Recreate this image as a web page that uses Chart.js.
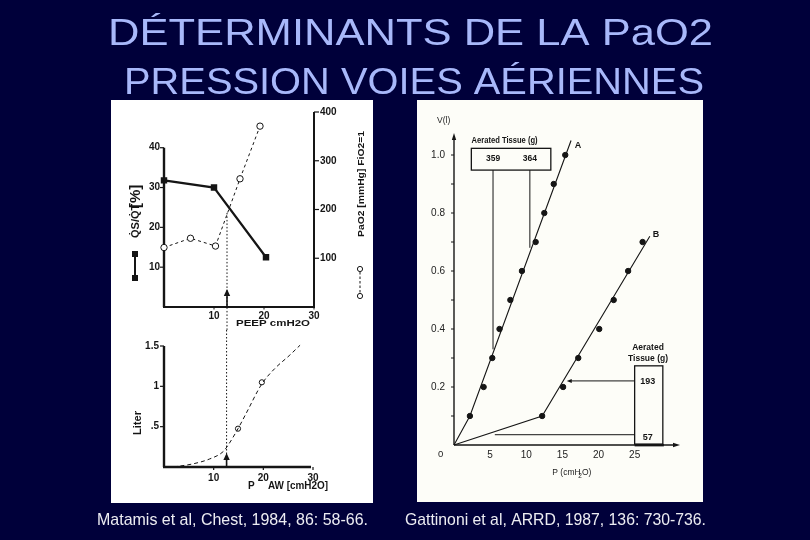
<!DOCTYPE html>
<html>
<head>
<meta charset="utf-8">
<script src="https://cdn.jsdelivr.net/npm/chart.js@4.4.1/dist/chart.umd.min.js"></script>
<style>
html, body { margin: 0; padding: 0; width: 810px; height: 540px; overflow: hidden; background: #00003a; }
canvas { position: absolute; }
.panel { position: absolute; }
</style>
</head>
<body>
<div class="panel" style="left:111px;top:100px;width:262px;height:403px;background:#ffffff"></div>
<div class="panel" style="left:417px;top:100px;width:286px;height:402px;background:#fdfdf8"></div>
<canvas id="bg" width="810" height="540" style="left:0;top:0"></canvas>
<canvas id="peep" width="262" height="230" style="left:111px;top:100px"></canvas>
<canvas id="paw" width="262" height="173" style="left:111px;top:330px"></canvas>
<canvas id="pv" width="286" height="402" style="left:417px;top:100px"></canvas>
<script>
// Matamis: shunt and PaO2 against PEEP
const peepShunt = [0, 10, 20.4]
const shuntPct = [31.8, 30, 12.5]
const peepPaO2 = [0, 5.3, 10.3, 15.2, 19.2]
const paO2 = [122, 141, 125, 263, 371]
const peepTicks = [10, 20, 30]
const shuntTicks = [10, 20, 30, 40]
const paO2Ticks = [100, 200, 300, 400]

// Matamis: P/V curve
const pawCurve = [1.9, 5.9, 9.2, 11.9, 12.9, 14.9, 16.5, 19.7, 22.3, 25.2, 27.4]
const literCurve = [0, 0.04, 0.1, 0.19, 0.27, 0.475, 0.66, 1.03, 1.22, 1.38, 1.51]
const pawMarks = [14.9, 19.7]
const literMarks = [0.475, 1.05]
const pawTicks = [10, 20, 30]
const literTicks = [0.5, 1, 1.5]
const literLabels = ['.5', '1', '1.5']
const lip = 12.6

// Gattinoni: curves A and B
const pressA = [2.2, 4.1, 5.3, 6.3, 7.8, 9.4, 11.3, 12.5, 13.8, 15.4]
const volA = [0.1, 0.2, 0.3, 0.4, 0.5, 0.6, 0.7, 0.8, 0.9, 1.0]
const pressB = [12.2, 15.1, 17.2, 20.1, 22.1, 24.1, 26.1]
const volB = [0.1, 0.2, 0.3, 0.4, 0.5, 0.6, 0.7]
const fitPressA = [0, 2.2, 16.2]
const fitVolA = [0, 0.1, 1.05]
const fitPressB = [0, 12.2, 27.1]
const fitVolB = [0, 0.1, 0.72]
const pTicks = [5, 10, 15, 20, 25]
const vTicks = [0.2, 0.4, 0.6, 0.8, 1.0]
const tissueTop = ['359', '364']
const tissueBottom = ['193', '57']

const FONT = '"Liberation Sans", Arial, sans-serif'
const INK = '#151515'

const zip = (xs, ys) => xs.map((x, i) => ({x, y: ys[i]}))

function put(ctx, s, x, y, o = {}) {
    ctx.save()
    ctx.font = (o.weight || 'normal') + ' ' + (o.size || 10) + 'px ' + FONT
    ctx.fillStyle = o.color || INK
    ctx.textBaseline = o.base || 'alphabetic'
    ctx.translate(x, y)
    if (o.rot) ctx.rotate(o.rot)
    const w = ctx.measureText(s).width
    const sx = o.width ? o.width / w : 1
    ctx.scale(sx, 1)
    const align = o.align || 'left'
    const dx = align === 'center' ? -w / 2 : align === 'right' ? -w : 0
    ctx.fillText(s, dx, 0)
    ctx.restore()
}

function seg(ctx, x1, y1, x2, y2, w, dash) {
    ctx.save()
    ctx.strokeStyle = INK
    ctx.lineWidth = w
    ctx.setLineDash(dash || [])
    ctx.beginPath()
    ctx.moveTo(x1, y1)
    ctx.lineTo(x2, y2)
    ctx.stroke()
    ctx.restore()
}

// filled arrow head, tip at (x, y), pointing along angle a
function head(ctx, x, y, a, len, half) {
    ctx.save()
    ctx.translate(x, y)
    ctx.rotate(a)
    ctx.fillStyle = INK
    ctx.beginPath()
    ctx.moveTo(0, 0)
    ctx.lineTo(-len, -half)
    ctx.lineTo(-len, half)
    ctx.closePath()
    ctx.fill()
    ctx.restore()
}

const fixedTicks = (list) => (s) => { s.ticks = list.map(v => ({value: v})) }
const tickFont = (size, weight) => ({family: FONT, size: size, weight: weight})

// title and captions
const bg = document.getElementById('bg').getContext('2d')
put(bg, 'DÉTERMINANTS DE LA PaO2', 108, 45, {size: 37, color: '#a8b8fa', width: 605})
put(bg, 'PRESSION VOIES AÉRIENNES', 124, 94, {size: 37, color: '#a8b8fa', width: 580})
put(bg, 'Matamis et al, Chest, 1984, 86: 58-66.', 97, 525, {size: 17, color: '#ececf2', width: 271})
put(bg, 'Gattinoni et al, ARRD, 1987, 136: 730-736.', 405, 525, {size: 17, color: '#ececf2', width: 301})

// ---------- PEEP chart ----------
new Chart(document.getElementById('peep'), {
    type: 'scatter',
    data: {
        datasets: [
            {
                data: zip(peepShunt, shuntPct), yAxisID: 'yL', showLine: true, clip: false,
                borderColor: INK, borderWidth: 2.2, pointStyle: 'rect', pointRadius: 3,
                pointBackgroundColor: INK, pointBorderColor: INK,
            },
            {
                data: zip(peepPaO2, paO2), yAxisID: 'yR', showLine: true, clip: false,
                borderColor: INK, borderWidth: 1, borderDash: [3, 3], pointRadius: 3.2,
                pointBackgroundColor: '#fff', pointBorderColor: INK, pointBorderWidth: 1,
            },
        ]
    },
    options: {
        responsive: false, animation: false,
        layout: {padding: {top: 10, left: 0, right: 0, bottom: 0}},
        plugins: {legend: {display: false}, tooltip: {enabled: false}},
        scales: {
            x: {
                type: 'linear', min: 0, max: 30, afterBuildTicks: fixedTicks(peepTicks),
                afterFit: s => { s.height = 23 },
                grid: {display: false, drawTicks: false}, border: {display: false},
                ticks: {font: tickFont(10, 'bold'), color: INK, padding: 3, maxRotation: 0, autoSkip: false},
            },
            yL: {
                type: 'linear', position: 'left', min: 0, max: 48.97, afterBuildTicks: fixedTicks(shuntTicks),
                afterFit: s => { s.width = 53 },
                grid: {display: false, drawTicks: false}, border: {display: false},
                ticks: {font: tickFont(10, 'bold'), color: INK, padding: 4, autoSkip: false},
            },
            yR: {
                type: 'linear', position: 'right', min: 0, max: 400, afterBuildTicks: fixedTicks(paO2Ticks),
                afterFit: s => { s.width = 59 },
                grid: {display: false, drawTicks: false}, border: {display: false},
                ticks: {font: tickFont(10, 'bold'), color: INK, padding: 6, autoSkip: false},
            },
        }
    },
    plugins: [{
        id: 'peepAxes',
        beforeDatasetsDraw(chart) {
            const {ctx, scales: {x, yL, yR}} = chart
            const x0 = x.getPixelForValue(0), x30 = x.getPixelForValue(30), yb = yL.getPixelForValue(0)
            seg(ctx, x0, yb, x0, yL.getPixelForValue(40), 2.4)
            seg(ctx, x0 - 1, yb, x30 + 1, yb, 2.2)
            seg(ctx, x30, yb, x30, yR.getPixelForValue(400), 2)
            shuntTicks.forEach(v => seg(ctx, x0 - 4, yL.getPixelForValue(v), x0, yL.getPixelForValue(v), 1.2))
            paO2Ticks.forEach(v => seg(ctx, x30, yR.getPixelForValue(v), x30 + 5, yR.getPixelForValue(v), 1.2))
            peepTicks.forEach(v => seg(ctx, x.getPixelForValue(v), yb, x.getPixelForValue(v), yb + 2.5, 1))
        },
        afterDatasetsDraw(chart) {
            const {ctx, scales: {x, yL, yR}} = chart
            const xl = x.getPixelForValue(lip)
            seg(ctx, xl, yR.getPixelForValue(193), xl, chart.height, 1, [1.5, 2])
            seg(ctx, xl, yL.getPixelForValue(0), xl, yL.getPixelForValue(0) - 12, 1.6)
            head(ctx, xl, yL.getPixelForValue(0) - 18, -Math.PI / 2, 7, 3.2)
            put(ctx, 'PEEP cmH2O', x.getPixelForValue(21.8), 226, {size: 8.5, weight: 'bold', align: 'center', width: 74})
            // left title and legend
            put(ctx, 'Q\u0307S/Q\u0307T', 28, 138, {size: 11, weight: 'bold', rot: -Math.PI / 2})
            put(ctx, '[%]', 29, 108, {size: 15, weight: 'bold', rot: -Math.PI / 2})
            seg(ctx, 24, 154, 24, 178, 2)
            ctx.fillStyle = INK
            ctx.fillRect(21, 151, 6, 6)
            ctx.fillRect(21, 175, 6, 6)
            // right title and legend
            put(ctx, 'PaO2 [mmHg] FiO2=1', 253, 137, {size: 9.5, weight: 'bold', rot: -Math.PI / 2, width: 106})
            seg(ctx, 249, 172, 249, 193, 1, [2.5, 2])
            ctx.save()
            ctx.strokeStyle = INK
            ctx.fillStyle = '#fff'
            ctx.lineWidth = 1
            ;[169, 196].forEach(cy => { ctx.beginPath(); ctx.arc(249, cy, 2.6, 0, Math.PI * 2); ctx.fill(); ctx.stroke() })
            ctx.restore()
        }
    }]
})

// ---------- Pressure-volume curve ----------
new Chart(document.getElementById('paw'), {
    type: 'scatter',
    data: {
        datasets: [
            {
                data: zip(pawCurve, literCurve), showLine: true, cubicInterpolationMode: 'monotone', clip: false,
                borderColor: INK, borderWidth: 1, borderDash: [4, 3], pointRadius: 0,
            },
            {
                data: zip(pawMarks, literMarks), clip: false, pointRadius: 2.6,
                pointBackgroundColor: '#fff', pointBorderColor: INK, pointBorderWidth: 1,
            },
        ]
    },
    options: {
        responsive: false, animation: false,
        layout: {padding: {top: 16, left: 0, right: 60, bottom: 0}},
        plugins: {legend: {display: false}, tooltip: {enabled: false}},
        scales: {
            x: {
                type: 'linear', min: 0, max: 30, afterBuildTicks: fixedTicks(pawTicks),
                afterFit: s => { s.height = 36 },
                grid: {display: false, drawTicks: false}, border: {display: false},
                ticks: {font: tickFont(10, 'bold'), color: INK, padding: 5, maxRotation: 0, autoSkip: false},
            },
            y: {
                type: 'linear', min: 0, max: 1.5, afterBuildTicks: fixedTicks(literTicks),
                afterFit: s => { s.width = 53 },
                grid: {display: false, drawTicks: false}, border: {display: false},
                ticks: {
                    font: tickFont(10, 'bold'), color: INK, padding: 5, autoSkip: false,
                    callback: (v) => literLabels[literTicks.indexOf(v)]
                },
            },
        }
    },
    plugins: [{
        id: 'pawAxes',
        beforeDatasetsDraw(chart) {
            const {ctx, scales: {x, y}} = chart
            const x0 = x.getPixelForValue(0), yb = y.getPixelForValue(0)
            seg(ctx, x0, yb, x0, y.getPixelForValue(1.5), 2.4)
            seg(ctx, x0 - 1, yb, x.getPixelForValue(29.6), yb, 2.4)
            literTicks.forEach(v => seg(ctx, x0 - 4, y.getPixelForValue(v), x0, y.getPixelForValue(v), 1.2))
            pawTicks.forEach(v => seg(ctx, x.getPixelForValue(v), yb, x.getPixelForValue(v), yb + 3, 1.2))
        },
        afterDatasetsDraw(chart) {
            const {ctx, scales: {x, y}} = chart
            const xl = x.getPixelForValue(lip), yb = y.getPixelForValue(0)
            seg(ctx, xl, 0, xl, yb, 1, [1.5, 2])
            seg(ctx, xl, yb, xl, yb - 8, 1.6)
            head(ctx, xl, yb - 14, -Math.PI / 2, 7, 3.2)
            put(ctx, 'Liter', 30, 93, {size: 10, weight: 'bold', rot: -Math.PI / 2, align: 'center', width: 24})
            put(ctx, 'P', 137, 159, {size: 10, weight: 'bold'})
            put(ctx, 'AW [cmH2O]', 157, 159, {size: 10, weight: 'bold', width: 60})
        }
    }]
})

// ---------- Gattinoni P/V curves ----------
new Chart(document.getElementById('pv'), {
    type: 'scatter',
    data: {
        datasets: [
            {data: zip(fitPressA, fitVolA), showLine: true, borderColor: INK, borderWidth: 1.1, pointRadius: 0, clip: false},
            {data: zip(fitPressB, fitVolB), showLine: true, borderColor: INK, borderWidth: 1.1, pointRadius: 0, clip: false},
            {data: zip(pressA, volA), pointRadius: 2.7, pointBackgroundColor: INK, pointBorderColor: INK, clip: false},
            {data: zip(pressB, volB), pointRadius: 2.7, pointBackgroundColor: INK, pointBorderColor: INK, clip: false},
        ]
    },
    options: {
        responsive: false, animation: false,
        layout: {padding: {top: 35, left: 0, right: 25, bottom: 0}},
        plugins: {legend: {display: false}, tooltip: {enabled: false}},
        scales: {
            x: {
                type: 'linear', min: 0, max: 31, afterBuildTicks: fixedTicks(pTicks),
                afterFit: s => { s.height = 57 },
                grid: {display: false, drawTicks: false}, border: {display: false},
                ticks: {font: tickFont(10), color: '#222', padding: 4, maxRotation: 0, autoSkip: false},
            },
            y: {
                type: 'linear', min: 0, max: 1.069, afterBuildTicks: fixedTicks(vTicks),
                afterFit: s => { s.width = 37 },
                grid: {display: false, drawTicks: false}, border: {display: false},
                ticks: {font: tickFont(10), color: '#222', padding: 9, autoSkip: false, callback: v => v.toFixed(1)},
            },
        }
    },
    plugins: [{
        id: 'pvNotes',
        beforeDatasetsDraw(chart) {
            const {ctx, scales: {x, y}} = chart
            const x0 = x.getPixelForValue(0), yb = y.getPixelForValue(0)
            const top = y.getPixelForValue(1.069), right = x.getPixelForValue(31)
            seg(ctx, x0, yb, x0, top + 4, 1.4)
            head(ctx, x0, top - 2, -Math.PI / 2, 7, 2.2)
            seg(ctx, x0, yb, right - 4, yb, 1.4)
            head(ctx, right + 2, yb, 0, 7, 2.2)
            for (let i = 1; i <= 10; i++) {
                const py = y.getPixelForValue(i / 10)
                seg(ctx, x0 - 3, py, x0, py, 1)
            }
            put(ctx, '0', x0 - 16, yb + 12, {size: 9.5, color: '#222'})
            put(ctx, 'V(l)', x0 - 17, 23, {size: 8.5, color: '#222'})
            put(ctx, 'P (cmH', x.getPixelForValue(13.6), yb + 30, {size: 8.5, color: '#222'})
            put(ctx, '2', x.getPixelForValue(17.2), yb + 33, {size: 6.5, color: '#222'})
            put(ctx, 'O)', x.getPixelForValue(17.7), yb + 30, {size: 8.5, color: '#222'})
        },
        afterDatasetsDraw(chart) {
            const {ctx, scales: {x, y}} = chart
            const px = v => x.getPixelForValue(v), py = v => y.getPixelForValue(v)
            ctx.save()
            ctx.strokeStyle = INK
            ctx.lineWidth = 1.3
            // upper box
            ctx.strokeRect(px(2.4), py(1.023), px(13.4) - px(2.4), py(0.948) - py(1.023))
            // lower box
            ctx.strokeRect(px(25.0), py(0.273), px(28.9) - px(25.0), py(0.003) - py(0.273))
            ctx.restore()
            seg(ctx, px(25.0), py(0.003) + 1, px(28.9) + 1, py(0.003) + 1, 2.5)
            put(ctx, 'Aerated Tissue (g)', px(7.0), py(1.04), {size: 9, weight: 'bold', align: 'center', width: 66})
            put(ctx, tissueTop[0], px(5.4), py(0.98), {size: 8.5, weight: 'bold', align: 'center'})
            put(ctx, tissueTop[1], px(10.5), py(0.98), {size: 8.5, weight: 'bold', align: 'center'})
            seg(ctx, px(5.4), py(0.948), px(5.4), py(0.33), 1)
            seg(ctx, px(10.5), py(0.948), px(10.5), py(0.68), 1)
            put(ctx, 'Aerated', px(26.85), 250, {size: 8.5, weight: 'bold', align: 'center'})
            put(ctx, 'Tissue (g)', px(26.85), 261, {size: 8.5, weight: 'bold', align: 'center'})
            put(ctx, tissueBottom[0], px(26.8), 284, {size: 9, weight: 'bold', align: 'center'})
            put(ctx, tissueBottom[1], px(26.8), 340, {size: 9, weight: 'bold', align: 'center'})
            seg(ctx, px(25.0), py(0.221), px(16.2), py(0.221), 1)
            head(ctx, px(15.6), py(0.221), Math.PI, 5, 2)
            seg(ctx, px(25.0), py(0.0355), px(5.65), py(0.0355), 1)
            put(ctx, 'A', px(16.7), py(1.025), {size: 9, weight: 'bold'})
            put(ctx, 'B', px(27.5), py(0.717), {size: 9, weight: 'bold'})
        }
    }]
})
</script>
</body>
</html>
